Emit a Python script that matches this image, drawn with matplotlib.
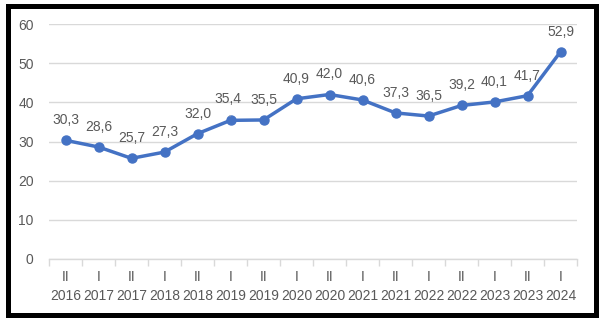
import matplotlib
matplotlib.use("Agg")
import matplotlib.pyplot as plt
from matplotlib.patches import Rectangle

# half-year labels and values
halves = ["II", "I", "II", "I", "II", "I", "II", "I", "II", "I", "II", "I", "II", "I", "II", "I"]
years = ["2016", "2017", "2017", "2018", "2018", "2019", "2019", "2020",
         "2020", "2021", "2021", "2022", "2022", "2023", "2023", "2024"]
values = [30.3, 28.6, 25.7, 27.3, 32.0, 35.4, 35.5, 40.9,
          42.0, 40.6, 37.3, 36.5, 39.2, 40.1, 41.7, 52.9]

plt.rcParams['font.family'] = ['Liberation Sans', 'DejaVu Sans']
TXT = '#595959'
BLUE = '#4472C4'
GRID = '#D9D9D9'

fig = plt.figure(figsize=(6.07, 3.24), dpi=100)
ax = fig.add_axes([49 / 607, 65 / 324, 528 / 607, 235 / 324])

x = list(range(len(values)))
ax.plot(x, values, color=BLUE, linewidth=2.5, marker='o', markersize=6.5,
        solid_capstyle='round', zorder=3)

for i, v in enumerate(values):
    lbl = f"{v:.1f}".replace('.', ',')
    if i == 5:
        # label pulled slightly aside, with a leader line
        ax.annotate(lbl, xy=(i, v), xytext=(-2, 15.5), textcoords='offset points',
                    ha='center', va='center', fontsize=10, color=TXT,
                    arrowprops=dict(arrowstyle='-', color='#A6A6A6', lw=0.8,
                                    shrinkA=5, shrinkB=3))
    else:
        ax.annotate(lbl, xy=(i, v), xytext=(0, 14.5), textcoords='offset points',
                    ha='center', va='center', fontsize=10, color=TXT)

ax.set_xlim(-0.5, len(values) - 0.5)
ax.set_ylim(0, 60)
ax.set_yticks(range(0, 61, 10))
ax.grid(axis='y', color=GRID, linewidth=1)
ax.set_axisbelow(True)

ax.set_xticks(x)
ax.set_xticklabels([f"{h}\n{y}" for h, y in zip(halves, years)], linespacing=1.4)
ax.set_xticks([i - 0.5 for i in range(len(values) + 1)], minor=True)
ax.tick_params(axis='x', which='major', length=0, pad=8, labelsize=10, labelcolor=TXT)
ax.tick_params(axis='x', which='minor', length=5, color=GRID, width=1)
ax.tick_params(axis='y', length=0, pad=11, labelsize=10, labelcolor=TXT)

for s in ['top', 'right', 'left']:
    ax.spines[s].set_visible(False)
ax.spines['bottom'].set_color(GRID)
ax.spines['bottom'].set_linewidth(1)

# black frame around the picture
fig.patches.append(Rectangle((7.5 / 607, 9.5 / 324), 588 / 607, 309 / 324,
                             transform=fig.transFigure, fill=False,
                             edgecolor='black', linewidth=3.6))

fig.savefig("out.png", dpi=100)
